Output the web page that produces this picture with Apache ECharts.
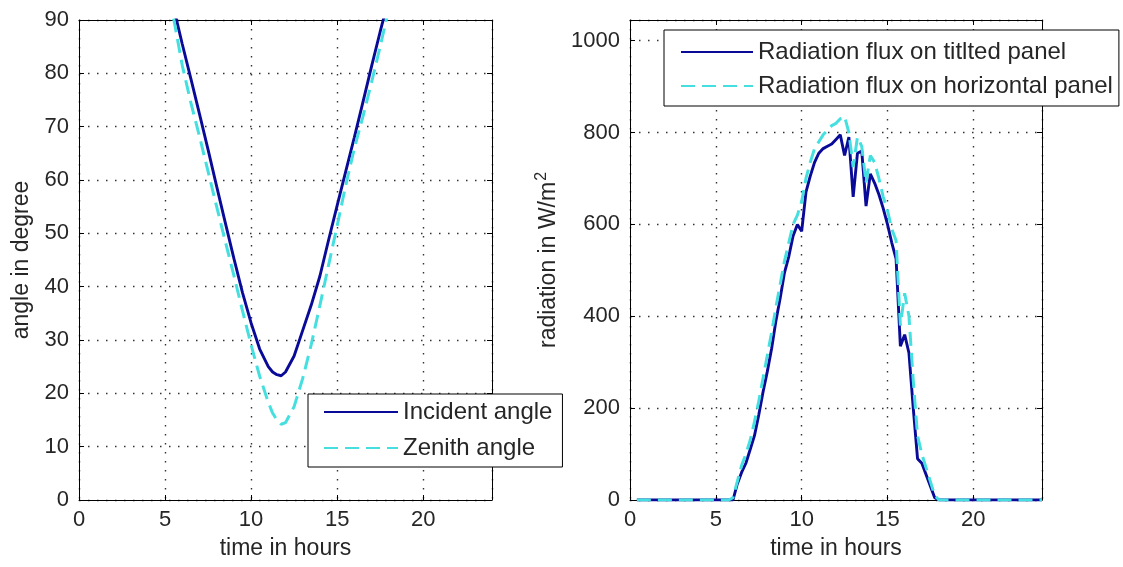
<!DOCTYPE html>
<html><head><meta charset="utf-8">
<script src="https://cdn.jsdelivr.net/npm/echarts/dist/echarts.min.js"></script>
<style>html,body{margin:0;padding:0;background:#fff}#c{width:1123px;height:567px}</style>
</head><body><div id="c"></div>
<script>
// ---- data ----
const angTime  = [5.0,5.5,6.0,6.5,7.0,7.5,8.0,8.5,9.0,9.5,10.0,10.5,11.0,11.25,11.5,11.75,12.0,12.5,13.0,13.5,14.0,14.5,15.0,15.5,16.0,16.5,17.0,17.5,18.0,18.5];
const incident = [99,92.3,85.5,79,72.4,65.7,58.8,52,45.3,38.9,33.2,28.3,25.0,24.0,23.5,23.3,24.0,27.0,31.8,36.6,42,48.7,55.2,61.6,68,74.6,81.3,87.8,94,100];
const zenith   = [98,90.3,81.5,74.5,68.2,61.6,55,48.5,42.1,35.5,29.1,23.2,18.3,16.3,15,14.2,14.5,17.5,22.8,29.2,36.5,44,51.4,59,65.9,71.9,78.3,85,92,98.5];

const radTime    = [0.4,5.75,6.0,6.25,6.5,6.75,7.0,7.25,7.5,7.75,8.0,8.25,8.5,8.75,9.0,9.25,9.5,9.75,10.0,10.25,10.5,10.75,11.0,11.25,11.5,11.75,12.0,12.25,12.5,12.75,13.0,13.25,13.5,13.75,14.0,14.25,14.5,14.75,15.0,15.25,15.5,15.75,16.0,16.25,16.5,16.75,17.0,17.25,17.5,17.75,18.0,18.25,24];
const tilted     = [0,0,0,35,60,80,110,140,185,235,280,330,390,440,495,530,575,600,585,670,705,735,755,765,770,775,785,795,750,790,660,755,760,640,710,690,665,635,600,560,525,335,360,320,200,90,80,55,30,5,0,0,0];
const horizontal = [0,0,5,40,75,100,130,170,215,265,315,365,420,470,520,560,600,620,650,700,735,765,780,795,805,815,820,830,835,800,725,790,770,690,750,735,700,660,630,590,565,380,450,400,260,140,100,70,40,10,0,0,0];

const hourTicks  = [0,5,10,15,20];
const angleTicks = [0,10,20,30,40,50,60,70,80,90];
const radTicks   = [0,200,400,600,800,1000];

const seriesNames = ['Incident angle','Zenith angle','Radiation flux on titlted panel','Radiation flux on horizontal panel'];

// ---- styling ----
const FONT = 'Liberation Sans';
const TXT = '#262626';
const NAVY = '#0a0a98';
const CYAN = '#45dfe0';
const gridDots = {show:true, lineStyle:{color:'#333', width:1.4, type:[1.5,7.5]}};

function pairs(xs, ys){ return xs.map((x,i)=>[x, ys[i]]); }

function baseX(gridIndex, show){
  return {
    type:'value', gridIndex, min:0, max:24, interval:5,
    position: show ? 'bottom' : 'top',
    axisLine:{show:true, onZero:false, lineStyle:{color:'#000', width:1}},
    axisTick:{show:true, inside:true, length:5, lineStyle:{color:'#000'}},
    axisLabel:{show:show, color:TXT, fontFamily:FONT, fontSize:22, margin:9,
      formatter: v => hourTicks.includes(v) ? String(v) : ''},
    splitLine: show ? gridDots : {show:false},
    name: show ? 'time in hours' : '', nameLocation:'middle', nameGap:37,
    nameTextStyle:{color:TXT, fontFamily:FONT, fontSize:23}
  };
}
function baseY(gridIndex, show, max, interval, ticks, name, nameGap, rich){
  return {
    type:'value', gridIndex, min:0, max, interval,
    position: show ? 'left' : 'right',
    axisLine:{show:true, onZero:false, lineStyle:{color:'#000', width:1}},
    axisTick:{show:true, inside:true, length:5, lineStyle:{color:'#000'}},
    axisLabel:{show:show, color:TXT, fontFamily:FONT, fontSize:22, margin:10,
      formatter: v => ticks.includes(v) ? String(v) : ''},
    splitLine: show ? gridDots : {show:false},
    name: show ? name : '', nameLocation:'middle', nameGap, nameRotate:90,
    nameTextStyle: Object.assign({color:TXT, fontFamily:FONT, fontSize:23}, rich ? {rich} : {})
  };
}
const legendCommon = {
  orient:'vertical', itemHeight:14, backgroundColor:'#fff', borderColor:'#000',
  borderWidth:1, borderRadius:0, selectedMode:false,
  itemStyle:{opacity:0, color:'transparent', borderWidth:0},
  textStyle:{color:TXT, fontFamily:FONT, fontSize:24, lineHeight:26}
};

const option = {
  backgroundColor:'#fff',
  animation:false,
  grid:[
    {left:79, top:20, width:413, height:480, containLabel:false, outerBoundsMode:'none'},
    {left:630, top:20, width:412, height:480, containLabel:false, outerBoundsMode:'none'}
  ],
  xAxis:[ baseX(0,true), baseX(0,false), baseX(1,true), baseX(1,false) ],
  yAxis:[
    baseY(0,true,90,10,angleTicks,'angle in degree',46),
    baseY(0,false,90,10,angleTicks,'',0),
    baseY(1,true,1045,200,radTicks,'{n|radiation in W/m}{s|2}',66,
      {n:{fontFamily:FONT, fontSize:23, color:TXT, lineHeight:30},
       s:{fontFamily:FONT, fontSize:16, color:TXT, verticalAlign:'top', lineHeight:30, padding:[0,0,12,1]}}),
    baseY(1,false,1045,200,radTicks,'',0)
  ],
  legend:[
    Object.assign({}, legendCommon, {data:[seriesNames[0],seriesNames[1]], left:308, top:394,
      itemWidth:74, itemGap:10, padding:[5,10,6,15]}),
    Object.assign({}, legendCommon, {data:[seriesNames[2],seriesNames[3]], left:664, top:30,
      itemWidth:72, itemGap:8, padding:[9,6,7,16]})
  ],
  series:[
    {name:seriesNames[0], type:'line', xAxisIndex:0, yAxisIndex:0, data:pairs(angTime,incident),
     symbol:'none', clip:true, lineStyle:{color:NAVY, width:2.9}, itemStyle:{color:NAVY}},
    {name:seriesNames[1], type:'line', xAxisIndex:0, yAxisIndex:0, data:pairs(angTime,zenith),
     symbol:'none', clip:true, lineStyle:{color:CYAN, width:3, type:[14,7]}, itemStyle:{color:CYAN}},
    {name:seriesNames[2], type:'line', xAxisIndex:2, yAxisIndex:2, data:pairs(radTime,tilted),
     symbol:'none', clip:true, lineStyle:{color:NAVY, width:2.9}, itemStyle:{color:NAVY}},
    {name:seriesNames[3], type:'line', xAxisIndex:2, yAxisIndex:2, data:pairs(radTime,horizontal),
     symbol:'none', clip:true, lineStyle:{color:CYAN, width:3, type:[14,7]}, itemStyle:{color:CYAN}}
  ]
};
const chart = echarts.init(document.getElementById('c'), null, {renderer:'canvas'});
chart.setOption(option);
</script></body></html>
